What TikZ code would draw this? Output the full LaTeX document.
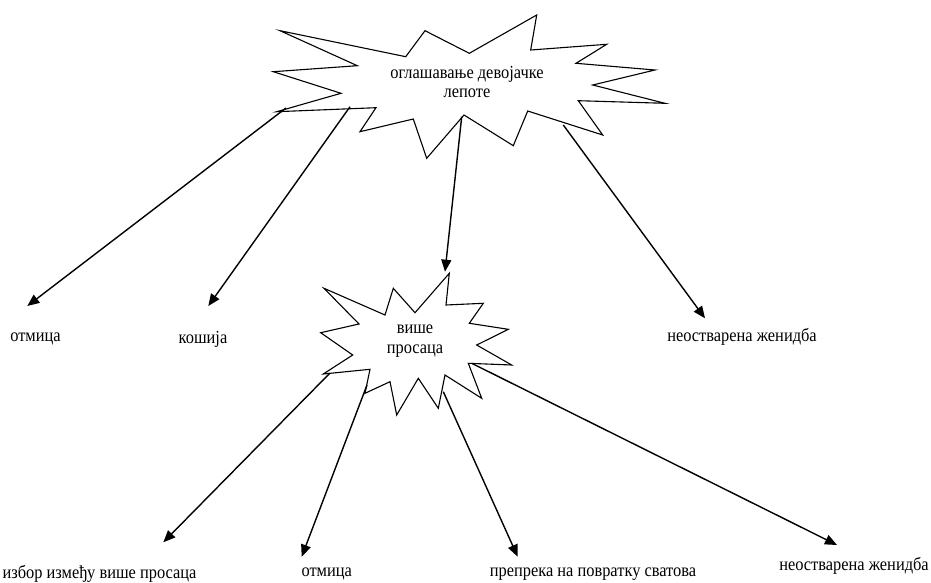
\documentclass[tikz,border=0pt]{standalone}
\usepackage{fontspec}
\setmainfont{Liberation Serif}
\usetikzlibrary{arrows.meta}
\begin{document}
\begin{tikzpicture}[x=1pt,y=-1pt,
  star/.style={draw=black,line width=1.1pt,line join=miter,fill=white},
  lbl/.style={font=\fontsize{16.4}{17.5}\selectfont,inner sep=0pt,align=center,yscale=1.12,transform shape},
  conn/.style={draw=black,line width=1.4pt,-{Triangle[length=12pt,width=10pt]}}]
\useasboundingbox (0,0) rectangle (931,583);
% top star
\draw[star] (280,30.7) -- (405.7,56.7) -- (425,30.7) -- (469.3,53.3) -- (536.7,15) -- (530.7,50) -- (606.7,44.3) -- (576,63.3) -- (655,70) -- (592.7,85) -- (665,103.3) -- (578.3,100.7) -- (602.7,135) -- (527.7,111) -- (513.3,145.7) -- (464,115) -- (426.7,158.3) -- (413.3,119) -- (360,131.7) -- (376,107.7) -- (276.7,111.7) -- (341,93.3) -- (273.3,71.7) -- (357.3,65.7) -- cycle;
% middle star
\draw[star] (324,288.3) -- (385,315) -- (393.3,288.3) -- (415,312.7) -- (449.3,273.3) -- (446,305) -- (483.3,303.3) -- (469.3,323.3) -- (508.3,329.3) -- (476.7,345) -- (511.7,365) -- (468.3,363.3) -- (481.7,398.3) -- (445,375) -- (438.3,408.3) -- (418.3,378.3) -- (396.7,415) -- (390,381.7) -- (365,393.3) -- (370,369.3) -- (323.3,374) -- (352.7,355) -- (320.7,332.7) -- (359,324) -- cycle;
% texts
\node[lbl] (top) at (467,82) {оглашавање девојачке\\лепоте};
\node[lbl] (mid) at (415,341) {више\\просаца};
\node[lbl] (l1) at (35.5,339) {отмица};
\node[lbl] (l2) at (203,339) {кошија};
\node[lbl] (l3) at (742,337) {неостварена женидба};
\node[lbl] (b1) at (99.5,574) {избор између више просаца};
\node[lbl] (b2) at (326.7,574) {отмица};
\node[lbl] (b3) at (593,574) {препрека на повратку сватова};
\node[lbl] (b4) at (854,566) {неостварена женидба};
% connector start and end points
\coordinate (s1) at (286,108);
\coordinate (s2) at (350,106.7);
\coordinate (s3) at (461.7,116.7);
\coordinate (s4) at (563.3,125);
\coordinate (s5) at (330,373);
\coordinate (s6) at (367,385);
\coordinate (s7) at (443.3,391.7);
\coordinate (s8) at (471.7,363.3);
\coordinate (t1) at (27.3,306);
\coordinate (t2) at (208.3,306);
\coordinate (t3) at (445,271.7);
\coordinate (t4) at (705,318.3);
\coordinate (t5) at (163.3,542.3);
\coordinate (t6) at (301.7,556.7);
\coordinate (t7) at (517.7,556.7);
\coordinate (t8) at (837,545);
\draw[conn] (s1) -- (t1);
\draw[conn] (s2) -- (t2);
\draw[conn] (s3) -- (t3);
\draw[conn] (s4) -- (t4);
\draw[conn] (s5) -- (t5);
\draw[conn] (s6) -- (t6);
\draw[conn] (s7) -- (t7);
\draw[conn] (s8) -- (t8);
\end{tikzpicture}
\end{document}
